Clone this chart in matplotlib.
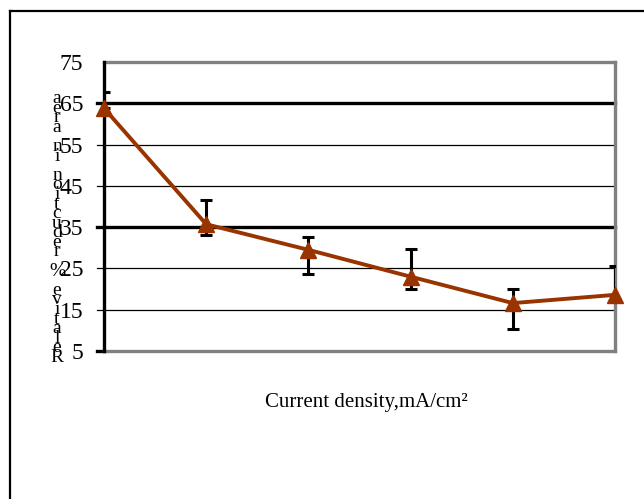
import matplotlib
matplotlib.use("Agg")
import matplotlib.pyplot as plt
from matplotlib.lines import Line2D

plt.rcParams['font.family'] = ['Liberation Serif', 'DejaVu Serif']

# data
positions = [0, 1, 2, 3, 4, 5]
reduction = [63.8, 35.7, 29.5, 23.0, 16.6, 18.6]
err_low = [0.0, 2.6, 5.9, 3.0, 6.2, 0.0]
err_high = [4.0, 5.9, 3.2, 6.6, 3.4, 7.0]

y_ticks = [5, 15, 25, 35, 45, 55, 65, 75]
heavy_lines = [35, 65]
light_lines = [15, 25, 45, 55]

ylabel = "Relative % reduction in area"
xlabel = "Current density,mA/cm\u00b2"

line_col = "#993300"
frame_col = "#808080"

fig = plt.figure(figsize=(6.44, 4.99), dpi=100)
ax = fig.add_axes([104/644, 1 - 351/499, (615 - 104)/644, (351 - 62)/499])

ax.set_xlim(0, 5)
ax.set_ylim(5, 75)

# horizontal grid, pushed a little left of the axis like tick marks
for y in light_lines:
    ax.axhline(y, xmin=-0.014, xmax=1, color="black", lw=0.9, clip_on=False, zorder=1)
for y in heavy_lines:
    ax.axhline(y, xmin=-0.014, xmax=1, color="black", lw=2.4, clip_on=False, zorder=1)
ax.axhline(5, xmin=-0.014, xmax=0, color="black", lw=2.4, clip_on=False, zorder=1)

# frame: black value axis, grey plot-area border
for side in ["top", "right", "bottom"]:
    ax.spines[side].set_color(frame_col)
    ax.spines[side].set_linewidth(2.4)
ax.spines["left"].set_color("black")
ax.spines["left"].set_linewidth(2.4)
ax.spines["left"].set_zorder(3)

ax.set_xticks([])
ax.set_yticks(y_ticks)
ax.tick_params(axis="y", length=0, pad=15, labelsize=17)

# error bars get clipped at the plot edges, the markers do not
ax.errorbar(positions, reduction, yerr=[err_low, err_high], fmt="none",
            ecolor="black", elinewidth=2.2, capsize=4.5, capthick=2.2, zorder=4)
ax.plot(positions, reduction, color=line_col, lw=2.8, marker="^", ms=11,
        mfc=line_col, mec=line_col, clip_on=False, zorder=5)

# stacked y label, one character per line, read bottom to top
fig.text(57/644, 1 - 228/499, "\n".join(reversed(ylabel)), ha="center", va="center",
         multialignment="center", fontsize=14, linespacing=0.43)

fig.text(366/644, 1 - 403/499, xlabel, ha="center", va="center", fontsize=15)

# outer border (only top and left visible in the picture)
fig.add_artist(Line2D([10/644, 1.0], [1 - 11/499, 1 - 11/499], color="black", lw=1.6,
                      transform=fig.transFigure))
fig.add_artist(Line2D([10/644, 10/644], [1 - 11/499, 0.0], color="black", lw=1.6,
                      transform=fig.transFigure))

fig.savefig("out.png", dpi=100)
